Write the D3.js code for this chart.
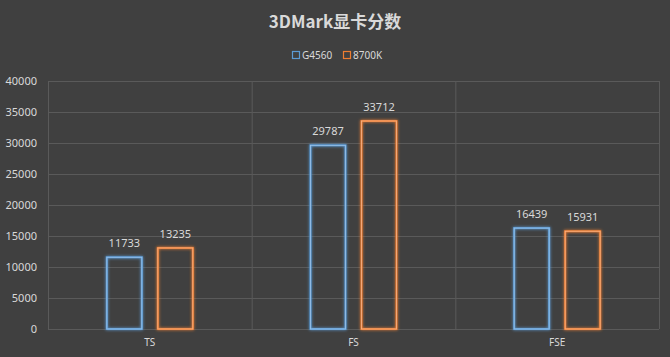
<!DOCTYPE html>
<html><head><meta charset="utf-8">
<script src="https://cdn.jsdelivr.net/npm/d3@7"></script>
<style>body{margin:0;background:#404040;}svg{display:block;}</style>
</head><body>
<svg id="c" width="670" height="357"></svg>
<script>
const categories = ["TS", "FS", "FSE"];
const seriesNames = ["G4560", "8700K"];
const g4560 = [11733, 29787, 16439];
const k8700 = [13235, 33712, 15931];
const yTicks = [0, 5000, 10000, 15000, 20000, 25000, 30000, 35000, 40000];
const colors = ["#5b9bd5", "#ed7d31"];
const lightColors = ["#9cc3e8", "#f5b48a"];
const series = [g4560, k8700];

const svg = d3.select("#c");
const W = 670, H = 357;
const m = {l: 48, r: 11, t: 81, b: 28};
const x = d3.scaleBand().domain(categories).range([m.l, W - m.r]).paddingInner(0).paddingOuter(0);
const y = d3.scaleLinear().domain([0, 40000]).range([H - m.b, m.t]);
const xs = d3.scaleBand().domain(seriesNames).range([0, x.bandwidth()]).paddingInner(0.2745).paddingOuter(1.134);

const defs = svg.append("defs");
colors.forEach((c, i) => {
  const f = defs.append("filter").attr("id", "glow" + i).attr("x", "-30%").attr("y", "-30%").attr("width", "160%").attr("height", "160%");
  f.append("feGaussianBlur").attr("in", "SourceGraphic").attr("stdDeviation", 1.6).attr("result", "b");
  const mg = f.append("feMerge");
  mg.append("feMergeNode").attr("in", "b");
  mg.append("feMergeNode").attr("in", "SourceGraphic");
});

// grid
svg.append("g").selectAll("line").data(yTicks).join("line")
  .attr("x1", m.l).attr("x2", W - m.r)
  .attr("y1", d => y(d) + 0.5).attr("y2", d => y(d) + 0.5)
  .attr("stroke", "#5a5a5a").attr("stroke-width", 1);
const vlines = categories.map(c => x(c)).concat([x(categories[categories.length - 1]) + x.bandwidth()]);
svg.append("g").selectAll("line").data(vlines).join("line")
  .attr("x1", d => d + 0.5).attr("x2", d => d + 0.5)
  .attr("y1", m.t).attr("y2", H - m.b)
  .attr("stroke", "#5a5a5a").attr("stroke-width", 1);

// y axis labels
const yAxis = d3.axisLeft(y).tickValues(yTicks).tickSize(0).tickPadding(11).tickFormat(d3.format("d"));
const ya = svg.append("g").attr("transform", `translate(${m.l},0)`).call(yAxis);
ya.select(".domain").remove();
ya.selectAll("text").attr("fill", "#d9d9d9").attr("font-size", 11).attr("font-family", "'Noto Sans', sans-serif");

// x axis labels
const xAxis = d3.axisBottom(x).tickSize(0).tickPadding(10);
const xa = svg.append("g").attr("transform", `translate(0,${H - m.b})`).call(xAxis);
xa.select(".domain").remove();
xa.selectAll("text").attr("fill", "#d9d9d9").attr("font-size", 10).attr("font-family", "'Noto Sans', sans-serif");

// bars
series.forEach((vals, si) => {
  const g = svg.append("g");
  g.selectAll("rect.o").data(vals).join("rect").attr("class", "o")
    .attr("x", (d, i) => x(categories[i]) + xs(seriesNames[si]) + 1)
    .attr("y", d => y(d) + 1)
    .attr("width", xs.bandwidth() - 2)
    .attr("height", d => y(0) - y(d) - 1)
    .attr("fill", "none").attr("stroke", colors[si]).attr("stroke-width", 2)
    .attr("filter", `url(#glow${si})`);
  g.selectAll("rect.i").data(vals).join("rect").attr("class", "i")
    .attr("x", (d, i) => x(categories[i]) + xs(seriesNames[si]) + 1)
    .attr("y", d => y(d) + 1)
    .attr("width", xs.bandwidth() - 2)
    .attr("height", d => y(0) - y(d) - 1)
    .attr("fill", "none").attr("stroke", lightColors[si]).attr("stroke-width", 0.8);
  g.selectAll("text").data(vals).join("text")
    .attr("x", (d, i) => x(categories[i]) + xs(seriesNames[si]) + xs.bandwidth() / 2)
    .attr("y", d => y(d) - 9)
    .attr("text-anchor", "middle")
    .attr("fill", "#d9d9d9").attr("font-size", 11).attr("font-family", "'Noto Sans', sans-serif")
    .text(d => d);
});

// title
svg.append("text").attr("x", W / 2).attr("y", 28).attr("text-anchor", "middle")
  .attr("fill", "#d9d9d9").attr("font-size", 17).attr("font-weight", "bold")
  .attr("font-family", "'Noto Sans CJK SC', sans-serif").text("3DMark显卡分数");

// legend
const leg = svg.append("g");
const legX = [292, 343];
seriesNames.forEach((n, i) => {
  leg.append("rect").attr("x", legX[i] + 0.5).attr("y", 51.5).attr("width", 7).attr("height", 7)
    .attr("fill", "none").attr("stroke", colors[i]).attr("stroke-width", 1.2);
  leg.append("text").attr("x", legX[i] + 10).attr("y", 59).attr("fill", "#d9d9d9")
    .attr("font-size", 10).attr("font-family", "'Noto Sans', sans-serif").text(n);
});
</script>
</body></html>
